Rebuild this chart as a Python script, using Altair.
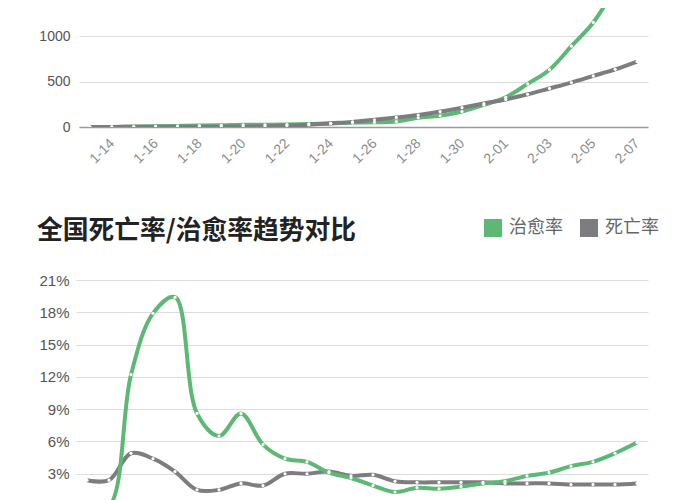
import altair as alt
import pandas as pd

dates = ["1-13", "1-14", "1-15", "1-16", "1-17", "1-18", "1-19", "1-20", "1-21", "1-22",
         "1-23", "1-24", "1-25", "1-26", "1-27", "1-28", "1-29", "1-30", "1-31", "2-01",
         "2-02", "2-03", "2-04", "2-05", "2-06", "2-07"]
cured_total = [0, 0, 5, 8, 12, 17, 19, 25, 25, 28, 34, 38, 49, 51, 60, 103, 124, 171, 243, 328,
               475, 632, 892, 1153, 1540, 2050]
death_total = [1, 1, 2, 2, 2, 3, 3, 6, 9, 17, 25, 41, 56, 80, 106, 132, 170, 213, 259, 304,
               361, 425, 490, 563, 636, 722]
cure_rate = [0, 0, 12.2, 17.9, 19.4, 8.6, 6.5, 8.6, 5.7, 4.4, 4.1, 3.1, 2.6, 1.9, 1.3, 1.7,
             1.6, 1.8, 2.1, 2.3, 2.8, 3.1, 3.7, 4.1, 4.9, 5.9]
death_rate = [2.4, 2.4, 4.9, 4.4, 3.2, 1.5, 1.5, 2.1, 1.9, 3.0, 3.0, 3.2, 2.8, 2.9, 2.3, 2.2,
              2.2, 2.2, 2.2, 2.1, 2.1, 2.1, 2.0, 2.0, 2.0, 2.1]
series = ["治愈率", "死亡率"]
chart_title = "全国死亡率/治愈率趋势对比"
tick_dates = dates[1::2]
total_ticks = [0, 500, 1000]
rate_ticks = [3, 6, 9, 12, 15, 18, 21]

GREEN = "#5cb874"
GRAY = "#7d7d81"
INTERP = "catmull-rom"
NUM_FONT = "Liberation Sans"
CJK_FONT = "Noto Sans CJK SC"

df1 = pd.DataFrame({"date": dates * 2,
                    "total": cured_total + death_total,
                    "series": [series[0]] * len(dates) + [series[1]] * len(dates)})
df2 = pd.DataFrame({"date": dates * 2,
                    "rate": cure_rate + death_rate,
                    "series": [series[0]] * len(dates) + [series[1]] * len(dates)})

green_only = alt.datum.series == series[0]
gray_only = alt.datum.series == series[1]

# ---------- top chart: totals ----------
x1 = alt.X("date:O",
           scale=alt.Scale(type="point", domain=dates, padding=0.5, range=[3, 572]),
           axis=alt.Axis(values=tick_dates, labelAngle=-45, labelAlign="right",
                         labelBaseline="middle", labelFontSize=14, labelColor="#8c8c8c",
                         labelFont=NUM_FONT, labelPadding=14, ticks=False, grid=False,
                         domainColor="#9a9a9a", domainWidth=1.5, title=None))
y1 = alt.Y("total:Q", scale=alt.Scale(domain=[0, 1312], nice=False),
           axis=alt.Axis(values=total_ticks, format="d", grid=True, gridColor="#dddddd",
                         domain=False, ticks=False, labelFontSize=14, labelColor="#555",
                         labelFont=NUM_FONT, labelPadding=6, title=None,
                         labelOverlap=False))

base1 = alt.Chart(df1)
top = alt.layer(
    base1.transform_filter(green_only).mark_line(color=GREEN, strokeWidth=4,
                                                 interpolate=INTERP, clip=True),
    base1.transform_filter(gray_only).mark_line(color=GRAY, strokeWidth=4,
                                                interpolate=INTERP, clip=True),
    base1.mark_circle(color="white", opacity=1, size=10, clip=True),
).encode(x=x1, y=y1).properties(width=572, height=119)

# ---------- bottom chart: rates ----------
x2 = alt.X("date:O", scale=alt.Scale(type="point", domain=dates, padding=0.5), axis=None)
y2 = alt.Y("rate:Q", scale=alt.Scale(domain=[0, 21], nice=False),
           axis=alt.Axis(values=rate_ticks, labelExpr="datum.value + '%'",
                         grid=True, gridColor="#dddddd", domain=False, ticks=False,
                         labelFontSize=15, labelColor="#555", labelFont=NUM_FONT,
                         labelPadding=7, title=None, labelOverlap=False))
color2 = alt.Color("series:N",
                   scale=alt.Scale(domain=series, range=[GREEN, GRAY]),
                   legend=alt.Legend(orient="none", legendX=-39, legendY=-61,
                                     direction="horizontal",
                                     title=chart_title, titleOrient="left",
                                     titleAnchor="start",
                                     titleFont=CJK_FONT, titleFontSize=25.75,
                                     titleFontWeight="bold", titleColor="#222",
                                     titlePadding=128, titleBaseline="top",
                                     titleLimit=500,
                                     symbolType="square", symbolSize=324,
                                     symbolStrokeWidth=0, labelFontSize=18,
                                     labelFont=CJK_FONT, labelColor="#666",
                                     labelOffset=7, columnPadding=17, padding=0))

base2 = alt.Chart(df2)
bottom = alt.layer(
    base2.transform_filter(gray_only).mark_line(color=GRAY, strokeWidth=4,
                                                interpolate=INTERP, clip=True),
    base2.transform_filter(green_only).mark_line(color=GREEN, strokeWidth=4,
                                                 interpolate=INTERP, clip=True),
    base2.mark_circle(color="white", opacity=1, size=10, clip=True),
    base2.transform_filter("false").mark_square(filled=True, opacity=1).encode(color=color2),
).encode(x=x2, y=y2).properties(width=572, height=226)

chart = alt.vconcat(top, bottom, spacing=53).resolve_legend(color="independent").properties(
    padding={"left": 29, "top": 0, "right": 0, "bottom": 0}
).configure(background="white").configure_view(stroke="transparent", strokeWidth=0)

chart.save("out.html", embed_options={"renderer": "svg", "actions": False})
